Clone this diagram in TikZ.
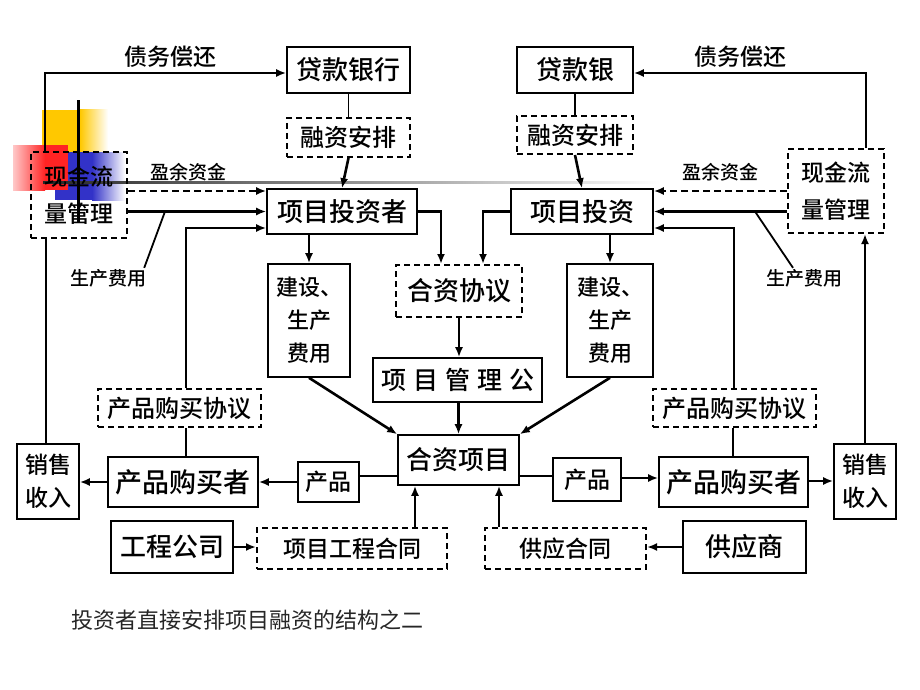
\documentclass[tikz,border=0pt]{standalone}
\usepackage{fontspec}
\setmainfont{Noto Sans CJK SC}[BoldFont={Noto Sans CJK SC Medium}]
\usetikzlibrary{arrows.meta}
\newcommand\myfs[2][0]{\fontsize{#2}{#2}\selectfont}
\definecolor{decoY}{HTML}{FFC800}
\definecolor{decoR}{HTML}{FF2424}
\definecolor{decoB}{HTML}{3232C8}
\tikzset{
 box/.style={draw, line width=1.6pt, inner sep=0pt, align=center},
 dbox/.style={box, dash pattern=on 6pt off 4pt, line width=2pt},
 arr/.style={line width=2.6pt, -{Latex[length=10pt,width=8pt]}},
 darr/.style={line width=2.2pt, dash pattern=on 7pt off 4pt, -{Latex[length=10pt,width=8pt]}},
 conn/.style={line width=1.6pt},
 tline/.style={line width=2.6pt},
 lbl/.style={inner sep=0pt, font=\myfs{19}\bfseries},
 every node/.append style={font=\bfseries},
}
\begin{document}
\begin{tikzpicture}[x=1pt,y=-1pt]
\useasboundingbox[fill=white] (0,0) rectangle (920,690);
% slide decorations (background)
\fill[decoY] (42,110) rectangle (80,152);
\shade[left color=decoY, right color=white] (80,110) rectangle (108,152);
\fill[decoB] (55,152) rectangle (92,200);
\shade[left color=decoB, right color=white] (92,152) rectangle (125,200);
\shade[left color=decoR!25, right color=decoR] (13,145) rectangle (45,190);
\fill[decoR] (45,145) rectangle (68,190);
\shade[left color=black!85, middle color=black!55, right color=white] (43,181) rectangle (660,183.5);

% nodes
\node[box, minimum width=123pt, minimum height=46pt, font=\myfs{26}\bfseries] (bankL) at (348.5,70) {贷款银行};
\node[dbox, minimum width=123pt, minimum height=39pt, font=\myfs{24}\bfseries] (finL) at (348.5,137.5) {融资安排};
\node[box, minimum width=150pt, minimum height=45pt, font=\myfs{26}\bfseries] (invL) at (342,211.5) {项目投资者};
\node[dbox, minimum width=96pt, minimum height=86pt, font=\fontsize{23}{37}\selectfont\bfseries] (cashL) at (79,195) {现金流\\量管理};

\node[box, minimum width=116pt, minimum height=46pt, font=\myfs{26}\bfseries] (bankR) at (575,70) {贷款银};
\node[dbox, minimum width=116pt, minimum height=38pt, font=\myfs{24}\bfseries] (finR) at (575,135) {融资安排};
\node[box, minimum width=142pt, minimum height=45pt, font=\myfs{26}\bfseries] (invR) at (582,211.5) {项目投资};
\node[dbox, minimum width=96pt, minimum height=84pt, font=\fontsize{23}{37}\selectfont\bfseries] (cashR) at (836,191) {现金流\\量管理};

\node[dbox, minimum width=126pt, minimum height=52pt, font=\myfs{26}\bfseries] (jvAgr) at (459,291) {合资协议};
\node[box, minimum width=169pt, minimum height=44pt, font=\myfs{25}\bfseries] (mgmt) at (457.5,380) {项\hskip7pt 目\hskip7pt 管\hskip7pt 理\hskip7pt 公};
\node[box, minimum width=121pt, minimum height=50pt, font=\myfs{26}\bfseries] (jv) at (458.5,460) {合资项目};

\node[box, minimum width=82pt, minimum height=113pt, font=\fontsize{22}{33}\selectfont\bfseries] (costL) at (309,320.5) {建设、\\生产\\费用};
\node[box, minimum width=86pt, minimum height=113pt, font=\fontsize{22}{33}\selectfont\bfseries] (costR) at (610,320.5) {建设、\\生产\\费用};

\node[dbox, minimum width=163pt, minimum height=38pt, font=\myfs{24}\bfseries] (ppaL) at (179.5,408) {产品购买协议};
\node[dbox, minimum width=163pt, minimum height=38pt, font=\myfs{24}\bfseries] (ppaR) at (734.5,408) {产品购买协议};

\node[box, minimum width=62pt, minimum height=75pt, font=\fontsize{23}{33}\selectfont\bfseries] (salesL) at (48,481.5) {销售\\收入};
\node[box, minimum width=62pt, minimum height=75pt, font=\fontsize{23}{33}\selectfont\bfseries] (salesR) at (865,481.5) {销售\\收入};
\node[box, minimum width=150pt, minimum height=50pt, font=\myfs{27}\bfseries] (buyL) at (183,482) {产品购买者};
\node[box, minimum width=149pt, minimum height=50pt, font=\myfs{27}\bfseries] (buyR) at (733.5,482) {产品购买者};
\node[box, minimum width=61pt, minimum height=40pt, font=\myfs{23}\bfseries] (prodL) at (328.5,482) {产品};
\node[box, minimum width=68pt, minimum height=43pt, font=\myfs{23}\bfseries] (prodR) at (587,479.5) {产品};

\node[box, minimum width=122pt, minimum height=52pt, font=\myfs{26}\bfseries] (eng) at (172,547) {工程公司};
\node[dbox, minimum width=190pt, minimum height=41pt, font=\myfs{23}\bfseries] (engC) at (352,548.5) {项目工程合同};
\node[dbox, minimum width=161pt, minimum height=41pt, font=\myfs{23}\bfseries] (supC) at (565.5,548.5) {供应合同};
\node[box, minimum width=123pt, minimum height=52pt, font=\myfs{26}\bfseries] (sup) at (744.5,547) {供应商};

% labels
\node[inner sep=0pt, font=\myfs{23}\bfseries] (debtL) at (170,57) {债务偿还};
\node[inner sep=0pt, font=\myfs{23}\bfseries] (debtR) at (740,57) {债务偿还};
\node[lbl] (surL) at (188,172) {盈余资金};
\node[lbl] (surR) at (720,172) {盈余资金};
\node[lbl] (pcL) at (108,278) {生产费用};
\node[lbl] (pcR) at (804,278) {生产费用};
\node[inner sep=0pt, font=\myfs{22}, text=black!85] (cap) at (247.5,620) {投资者直接安排项目融资的结构之二};

% connectors left
\draw[arr] ([xshift=15pt]cashL.north west) |- ([yshift=-3pt]bankL.west);
\draw[conn] (bankL.south) -- (finL.north);
\draw[arr] (finL.south) -- (invL.north);
\draw[darr] ([yshift=4pt]cashL.east) -- ([yshift=20.5pt]invL.west);
\draw[arr] ([yshift=-16.5pt]cashL.east) -- (invL.west);
\draw[arr] ([xshift=6.5pt]ppaL.north) |- ([yshift=-16.5pt]invL.west);
\coordinate (tapL) at (165,211.5);
\draw[line width=1.8pt] ([xshift=-2pt,yshift=1pt]pcL.north east) -- (tapL);
\draw[tline] ([xshift=-33pt]cashL.south) -- ([xshift=-2pt]salesL.north);
\draw[arr] (invL.east) -| ([xshift=-18pt]jvAgr.north);
\draw[arr] (costL.north |- invL.south) -- (costL.north);
\draw[arr] (costL.south) -- (jv.north west);

% connectors right
\draw[arr] ([xshift=30pt]cashR.north) |- ([yshift=-3pt]bankR.east);
\draw[conn] (bankR.south) -- (finR.north);
\draw[arr] (finR.south) -- (invR.north);
\draw[darr] (cashR.west) -- ([yshift=20.5pt]invR.east);
\draw[arr] ([yshift=-20.5pt]cashR.west) -- (invR.east);
\draw[arr] ([xshift=-0.5pt]ppaR.north) |- ([yshift=-16.5pt]invR.east);
\coordinate (tapR) at (755,211.5);
\draw[line width=1.8pt] ([xshift=-11pt,yshift=1pt]pcR.north) -- (tapR);
\draw[arr] (salesR.north) -- (salesR.north |- cashR.south);
\draw[arr] (invR.west) -| ([xshift=24pt]jvAgr.north);
\draw[arr] (costR.north |- invR.south) -- (costR.north);
\draw[arr] (costR.south) -- (jv.north east);

% centre
\draw[arr] (jvAgr.south) -- (jvAgr.south |- mgmt.north);
\draw[arr] (mgmt.south -| jv.north) -- (jv.north);

% bottom
\draw[arr] (buyL.west) -- (buyL.west -| salesL.east);
\draw[arr] (prodL.west) -- (prodL.west -| buyL.east);
\draw[conn] ([yshift=-16pt]jv.west) -- ([yshift=-16pt]jv.west -| prodL.east);
\draw[conn] ([xshift=6.5pt]ppaL.south) -- ([xshift=6.5pt]ppaL.south |- buyL.north);
\draw[conn] ([yshift=-16pt]jv.east) -- ([yshift=-16pt]jv.east -| prodR.west);
\draw[arr] ([yshift=1.5pt]prodR.east) -- ([yshift=1.5pt]prodR.east -| buyR.west);
\draw[arr] ([yshift=1pt]buyR.east) -- ([yshift=1pt]buyR.east -| salesR.west);
\draw[conn] ([xshift=-1.5pt]ppaR.south) -- ([xshift=-1.5pt]ppaR.south |- buyR.north);
\draw[arr] (eng.east) -- (eng.east -| engC.west);
\draw[arr] (sup.west) -- (sup.west -| supC.east);
\draw[arr] ([xshift=63pt]engC.north) -- ([xshift=63pt]engC.north |- jv.south);
\draw[arr] ([xshift=-66.5pt]supC.north) -- ([xshift=-66.5pt]supC.north |- jv.south);

% slide decoration (foreground line)
\fill[black] (77,100) rectangle (79.5,222);
\end{tikzpicture}
\end{document}
